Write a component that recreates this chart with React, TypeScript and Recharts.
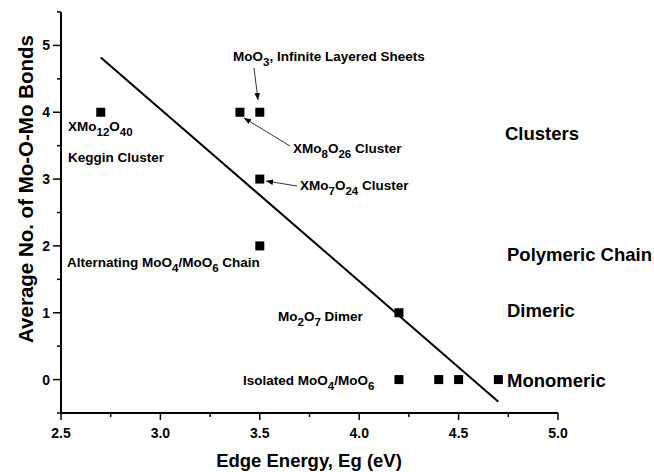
import React from 'react';
import { ScatterChart, Scatter, XAxis, YAxis } from 'recharts';

const pointsX = [2.7, 3.4, 3.5, 3.5, 3.5, 4.2, 4.2, 4.4, 4.5, 4.7];
const pointsY = [4, 4, 4, 3, 2, 1, 0, 0, 0, 0];
const fitX = [2.7, 4.7];
const fitY = [4.82, -0.33];
const xTicks = [2.5, 2.75, 3.0, 3.25, 3.5, 3.75, 4.0, 4.25, 4.5, 4.75, 5.0];
const yTicks = [-0.5, 0, 0.5, 1, 1.5, 2, 2.5, 3, 3.5, 4, 4.5, 5, 5.5];

const points = pointsX.map((x, i) => ({ x, y: pointsY[i] }));
const fit = fitX.map((x, i) => ({ x, y: fitY[i] }));

const FONT = '"Liberation Sans", Arial, Helvetica, sans-serif';

const XTick = (props: any) => {
  const { x, y, payload } = props;
  const v = payload.value as number;
  const major = Math.abs(v * 2 - Math.round(v * 2)) < 1e-6;
  return (
    <g>
      <line x1={x} y1={y} x2={x} y2={y + (major ? 7 : 4)} stroke="#000" strokeWidth={1.5} />
      {major && (
        <text x={x} y={y + 25} textAnchor="middle" fontFamily={FONT} fontWeight="bold" fontSize={14} fill="#000">
          {v.toFixed(1)}
        </text>
      )}
    </g>
  );
};

const YTick = (props: any) => {
  const { x, y, payload } = props;
  const v = payload.value as number;
  const major = Math.abs(v - Math.round(v)) < 1e-6;
  return (
    <g>
      <line x1={x} y1={y} x2={x - (major ? 8 : 4)} y2={y} stroke="#000" strokeWidth={1.5} />
      {major && (
        <text x={x - 11} y={y + 5} textAnchor="end" fontFamily={FONT} fontWeight="bold" fontSize={14} fill="#000">
          {String(v)}
        </text>
      )}
    </g>
  );
};

const Square = (props: any) => {
  const { cx, cy } = props;
  return <rect x={cx - 4.5} y={cy - 4.5} width={9} height={9} fill="#000" />;
};

const Empty = () => <g />;

const sub = (t: string) => (
  <tspan dy={4.5} fontSize={11.5}>{t}</tspan>
);
const up = (t: string) => <tspan dy={-4.5}>{t}</tspan>;

export default function App() {
  const small = { fontFamily: FONT, fontWeight: 'bold' as const, fontSize: 13.5, fill: '#000' };
  const big = { fontFamily: FONT, fontWeight: 'bold' as const, fontSize: 18.5, fill: '#000' };
  return (
    <div style={{ position: 'absolute', left: 0, top: 0, width: 654, height: 472, background: '#fff' }}>
      <ScatterChart width={654} height={472} margin={{ top: 12, right: 96, bottom: 0, left: 0 }}>
        <XAxis
          type="number"
          dataKey="x"
          domain={[2.5, 5.0]}
          ticks={xTicks}
          interval={0}
          height={59}
          tickSize={0}
          tickMargin={0}
          tick={<XTick />}
          axisLine={{ stroke: '#000', strokeWidth: 2 }}
          tickLine={false}
        />
        <YAxis
          type="number"
          dataKey="y"
          domain={[-0.5, 5.5]}
          ticks={yTicks}
          interval={0}
          width={61}
          tickSize={0}
          tickMargin={0}
          tick={<YTick />}
          axisLine={{ stroke: '#000', strokeWidth: 2 }}
          tickLine={false}
        />
        <Scatter data={fit} line={{ stroke: '#000', strokeWidth: 2 }} lineType="joint" shape={<Empty />} isAnimationActive={false} />
        <Scatter data={points} fill="#000" shape={<Square />} isAnimationActive={false} />
      </ScatterChart>
      <svg width={654} height={472} style={{ position: 'absolute', left: 0, top: 0, pointerEvents: 'none' }}>
        <defs>
          <marker id="arr" viewBox="0 0 10 10" refX="10" refY="5" markerWidth="7" markerHeight="7" orient="auto" markerUnits="userSpaceOnUse">
            <path d="M0,1 L10,5 L0,9 z" fill="#000" />
          </marker>
        </defs>
        <text x={33} y={189} transform="rotate(-90 33 189)" textAnchor="middle" {...big} fontSize={20.5}>
          Average No. of Mo-O-Mo Bonds
        </text>
        <text x={309} y={467} textAnchor="middle" {...big}>
          Edge Energy, Eg (eV)
        </text>

        <text x={233} y={61} {...small}>MoO{sub('3')}{up(', Infinite Layered Sheets')}</text>
        <line x1={254} y1={68} x2={258} y2={100} stroke="#000" strokeWidth={0.8} markerEnd="url(#arr)" />

        <text x={68} y={131} {...small}>XMo{sub('12')}{up('O')}{sub('40')}</text>
        <text x={68} y={162} {...small}>Keggin Cluster</text>

        <text x={293} y={153} {...small}>XMo{sub('8')}{up('O')}{sub('26')}{up(' Cluster')}</text>
        <line x1={290} y1={146} x2={244} y2={118} stroke="#000" strokeWidth={0.8} markerEnd="url(#arr)" />

        <text x={300} y={190} {...small}>XMo{sub('7')}{up('O')}{sub('24')}{up(' Cluster')}</text>
        <line x1={297} y1={186} x2={266} y2={181} stroke="#000" strokeWidth={0.8} markerEnd="url(#arr)" />

        <text x={67} y={267} {...small}>Alternating MoO{sub('4')}{up('/MoO')}{sub('6')}{up(' Chain')}</text>
        <text x={278} y={321} {...small}>Mo{sub('2')}{up('O')}{sub('7')}{up(' Dimer')}</text>
        <text x={243} y={385} {...small}>Isolated MoO{sub('4')}{up('/MoO')}{sub('6')}</text>

        <text x={505} y={140} {...big}>Clusters</text>
        <text x={507} y={261} {...big}>Polymeric Chain</text>
        <text x={507} y={317} {...big}>Dimeric</text>
        <text x={507} y={387} {...big}>Monomeric</text>
      </svg>
    </div>
  );
}
